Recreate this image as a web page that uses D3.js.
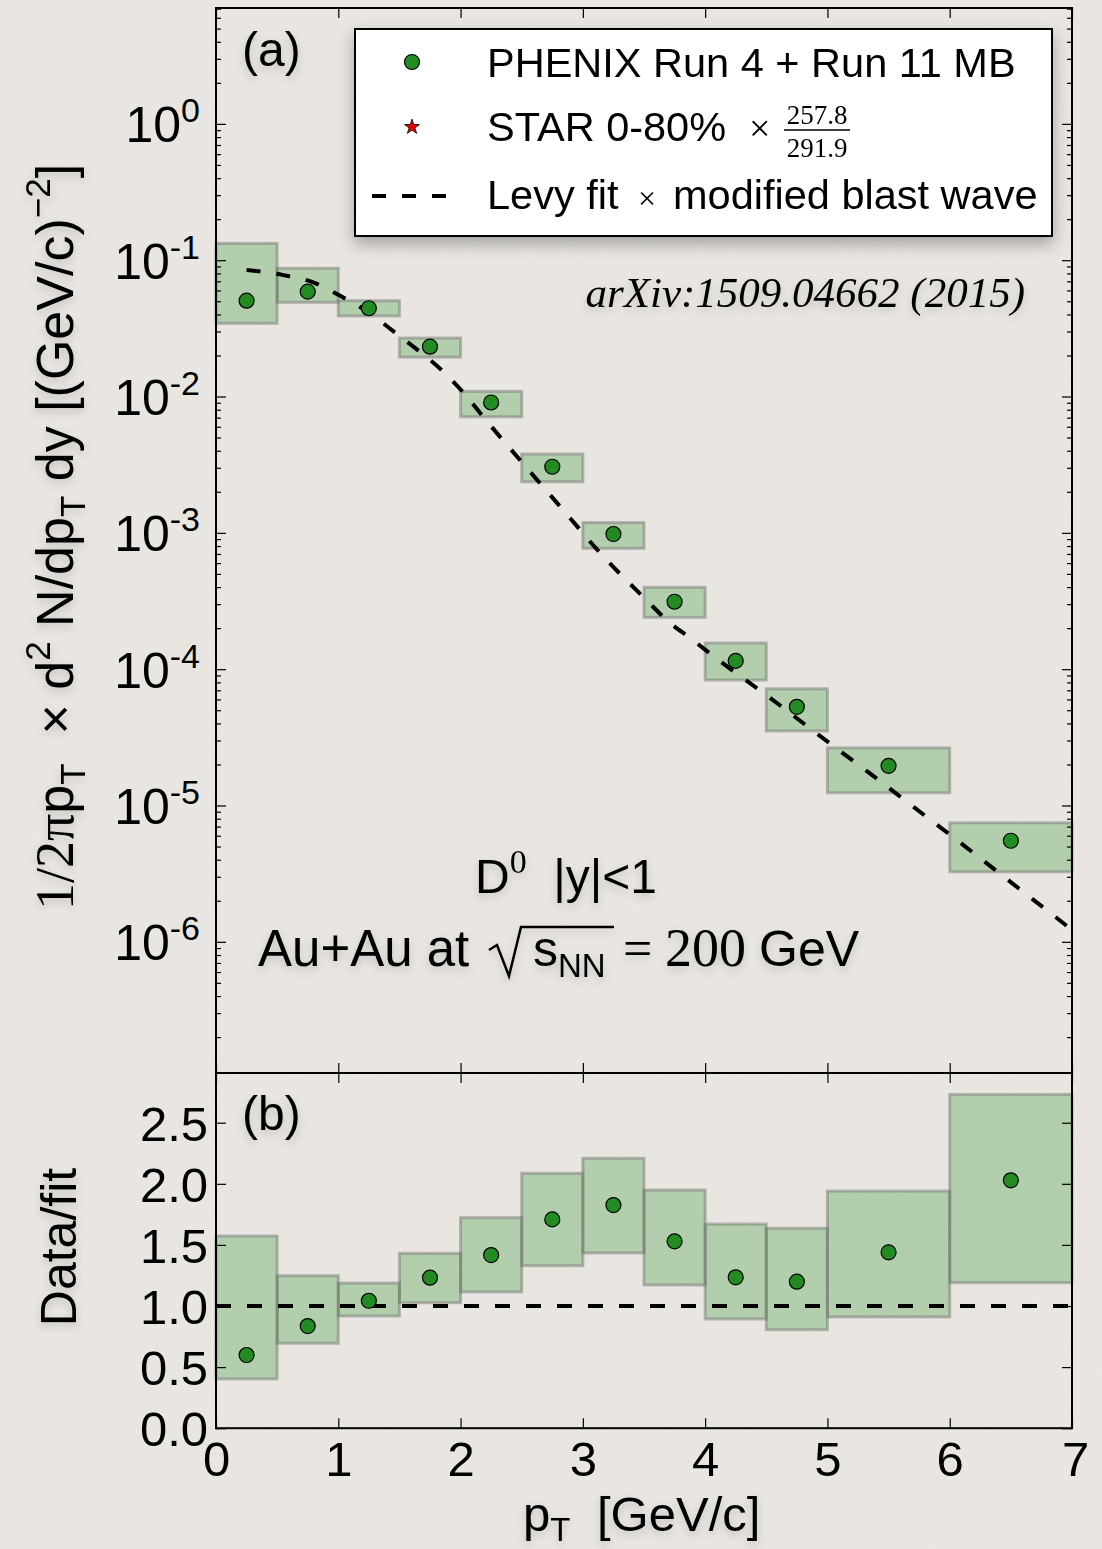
<!DOCTYPE html>
<meta charset="utf-8">
<head>
<style>
body { margin: 0; background: #ebe8e3; }
svg { display: block; }
</style>
<script src="https://cdnjs.cloudflare.com/ajax/libs/d3/7.8.5/d3.min.js"></script>
</head>
<body>
<div id="chart"></div>
<script>
// bins in pT [GeV/c]
var binLo = [0, 0.5, 1, 1.5, 2, 2.5, 3, 3.5, 4, 4.5, 5, 6]
var binHi = [0.5, 1, 1.5, 2, 2.5, 3, 3.5, 4, 4.5, 5, 6, 7]
var ptCenter = [0.25, 0.75, 1.25, 1.75, 2.25, 2.75, 3.25, 3.75, 4.25, 4.75, 5.5, 6.5]

// panel (a): invariant yield and systematic boxes
var yieldVal = [0.0509, 0.0593, 0.0448, 0.0234, 0.00912, 0.00308, 0.000989, 0.000315, 0.000116, 5.34e-5, 1.97e-5, 5.56e-6]
var yieldSysHi = [0.134, 0.088, 0.0509, 0.0271, 0.0110, 0.00382, 0.00120, 0.000402, 0.000157, 7.24e-5, 2.67e-5, 7.53e-6]
var yieldSysLo = [0.0347, 0.0495, 0.0393, 0.0196, 0.00716, 0.00239, 0.000776, 0.000242, 8.39e-5, 3.55e-5, 1.25e-5, 3.29e-6]

// Levy x modified blast wave fit
var fitPt = [0.25, 0.55, 0.80, 1.03, 1.26, 1.45, 1.65, 1.85, 2.03, 2.19, 2.51, 2.84, 3.17, 3.52, 3.70, 3.88, 4.11, 4.52, 4.93, 5.32, 5.72, 6.13, 6.52, 6.93, 7.0]
var fitVal = [0.0855, 0.0784, 0.0691, 0.0543, 0.0411, 0.0304, 0.0221, 0.0156, 0.0106, 0.00707, 0.00326, 0.00148, 0.000673, 0.000324, 0.000225, 0.000170, 0.0001175, 6.32e-5, 3.31e-5, 1.81e-5, 9.6e-6, 5.02e-6, 2.67e-6, 1.38e-6, 1.23e-6]

// panel (b): data / fit
var ratioVal = [0.599, 0.836, 1.043, 1.232, 1.417, 1.709, 1.826, 1.529, 1.235, 1.199, 1.439, 2.029]
var ratioSysHi = [1.573, 1.248, 1.188, 1.431, 1.723, 2.086, 2.209, 1.949, 1.671, 1.636, 1.941, 2.732]
var ratioSysLo = [0.403, 0.695, 0.918, 1.027, 1.115, 1.330, 1.434, 1.172, 0.894, 0.806, 0.910, 1.191]

var xTicks = [0, 1, 2, 3, 4, 5, 6, 7]
var logTickExp = [0, -1, -2, -3, -4, -5, -6]
var ratioTicks = [0, 0.5, 1, 1.5, 2, 2.5]

var W = 1102, H = 1549
var left = 216, right = 1072, topA = 8, split = 1073, botB = 1428.2
var font = '"Liberation Sans", Arial, Helvetica, sans-serif'
var serif = '"Liberation Serif", "DejaVu Serif", serif'
var green = '#228b22'

var svg = d3.select('#chart').append('svg').attr('width', W).attr('height', H)

var defs = svg.append('defs')
var sh = defs.append('filter').attr('id', 'shadow').attr('x', '-20%').attr('y', '-20%').attr('width', '140%').attr('height', '160%')
sh.append('feDropShadow').attr('dx', 0).attr('dy', 7).attr('stdDeviation', 8).attr('flood-color', '#000').attr('flood-opacity', 0.3)
var tsh = defs.append('filter').attr('id', 'tshadow').attr('x', '-10%').attr('y', '-30%').attr('width', '120%').attr('height', '180%')
tsh.append('feDropShadow').attr('dx', 0).attr('dy', 4).attr('stdDeviation', 4).attr('flood-color', '#000').attr('flood-opacity', 0.16)
// faint paper grain
var grain = defs.append('filter').attr('id', 'grain')
grain.append('feTurbulence').attr('type', 'fractalNoise').attr('baseFrequency', 0.9).attr('numOctaves', 2).attr('seed', 3)
grain.append('feColorMatrix').attr('type', 'matrix')
  .attr('values', '0 0 0 0 0.45  0 0 0 0 0.43  0 0 0 0 0.40  0 0 0 0.07 0')

svg.append('rect').attr('width', W).attr('height', H).attr('fill', '#ebe8e3')
svg.append('rect').attr('width', W).attr('height', H).attr('filter', 'url(#grain)')

var x = d3.scaleLinear().domain([0, 7]).range([left, right])
var y = d3.scaleLog().domain([1.1e-7, 7.14]).range([split, topA])
var yr = d3.scaleLinear().domain([0, 2.907]).range([botB, split])

var idx = d3.range(ptCenter.length)

// ---------- panel (a) ----------
var gA = svg.append('g')
gA.selectAll('rect.sys').data(idx).enter().append('rect')
  .attr('class', 'sys')
  .attr('x', function(i) { return x(binLo[i]) })
  .attr('width', function(i) { return x(binHi[i]) - x(binLo[i]) })
  .attr('y', function(i) { return y(yieldSysHi[i]) })
  .attr('height', function(i) { return y(yieldSysLo[i]) - y(yieldSysHi[i]) })
  .attr('fill', 'rgba(34,139,34,0.27)')
  .attr('stroke', 'rgba(110,110,110,0.45)')
  .attr('stroke-width', 3)

var fitLine = d3.line()
  .x(function(d, i) { return x(fitPt[i]) })
  .y(function(d, i) { return y(fitVal[i]) })
  .curve(d3.curveMonotoneX)
gA.append('path').datum(fitPt).attr('d', fitLine)
  .attr('fill', 'none').attr('stroke', '#000').attr('stroke-width', 4)
  .attr('stroke-dasharray', '14,16')

gA.selectAll('circle').data(idx).enter().append('circle')
  .attr('cx', function(i) { return x(ptCenter[i]) })
  .attr('cy', function(i) { return y(yieldVal[i]) })
  .attr('r', 7.5).attr('fill', green).attr('stroke', '#000').attr('stroke-width', 1.2)

// ---------- panel (b) ----------
var gB = svg.append('g')
gB.selectAll('rect.sys').data(idx).enter().append('rect')
  .attr('class', 'sys')
  .attr('x', function(i) { return x(binLo[i]) })
  .attr('width', function(i) { return x(binHi[i]) - x(binLo[i]) })
  .attr('y', function(i) { return yr(ratioSysHi[i]) })
  .attr('height', function(i) { return yr(ratioSysLo[i]) - yr(ratioSysHi[i]) })
  .attr('fill', 'rgba(34,139,34,0.27)')
  .attr('stroke', 'rgba(110,110,110,0.45)')
  .attr('stroke-width', 3)

gB.append('line').attr('x1', x(0)).attr('x2', x(7)).attr('y1', yr(1)).attr('y2', yr(1))
  .attr('stroke', '#000').attr('stroke-width', 4).attr('stroke-dasharray', '15,16')

gB.selectAll('circle').data(idx).enter().append('circle')
  .attr('cx', function(i) { return x(ptCenter[i]) })
  .attr('cy', function(i) { return yr(ratioVal[i]) })
  .attr('r', 7.5).attr('fill', green).attr('stroke', '#000').attr('stroke-width', 1.2)

// ---------- axes ----------
function styleAxis(g) {
  g.select('.domain').remove()
  g.selectAll('.tick line').attr('stroke', '#000').attr('stroke-width', 1.2)
  g.selectAll('.tick text').attr('fill', '#000').style('font-size', '49px').style('font-family', font)
}

// x axes (inward ticks)
svg.append('g').attr('transform', 'translate(0,' + topA + ')')
  .call(d3.axisBottom(x).tickValues(xTicks).tickSize(10).tickFormat('')).call(styleAxis)
svg.append('g').attr('transform', 'translate(0,' + split + ')')
  .call(d3.axisTop(x).tickValues(xTicks).tickSize(10).tickFormat('')).call(styleAxis)
svg.append('g').attr('transform', 'translate(0,' + split + ')')
  .call(d3.axisBottom(x).tickValues(xTicks).tickSize(10).tickFormat('')).call(styleAxis)
var xb = svg.append('g').attr('transform', 'translate(0,' + botB + ')')
  .call(d3.axisTop(x).tickValues(xTicks).tickSize(10).tickFormat(d3.format('d'))).call(styleAxis)
xb.selectAll('.tick text').attr('y', 48).attr('dy', 0).attr('text-anchor', 'middle')
xb.selectAll('.tick').filter(function(d) { return d == 7 }).select('text').attr('x', 3)

// log y axis ticks
var majors = [], minors = []
for (var e = -7; e <= 0; e++) {
  if (Math.pow(10, e) >= 1.1e-7) majors.push(Math.pow(10, e))
  for (var m = 2; m <= 9; m++) {
    var v = m * Math.pow(10, e)
    if (v >= 1.1e-7 && v <= 7.14) minors.push(v)
  }
}
var tickG = svg.append('g').attr('stroke', '#000').attr('stroke-width', 1.2)
function yTickLines(vals, len) {
  vals.forEach(function(v) {
    tickG.append('line').attr('x1', left).attr('x2', left + len).attr('y1', y(v)).attr('y2', y(v))
    tickG.append('line').attr('x1', right).attr('x2', right - len).attr('y1', y(v)).attr('y2', y(v))
  })
}
yTickLines(majors, 10)
yTickLines(minors, 5)

var yLab = svg.append('g').style('font-family', font).attr('fill', '#000')
logTickExp.forEach(function(ex) {
  var t = yLab.append('text').attr('x', 200).attr('y', y(Math.pow(10, ex)) + 18).attr('text-anchor', 'end')
  t.append('tspan').style('font-size', '50px').text('10')
  t.append('tspan').style('font-size', '34px').attr('dy', -20).text(ex == 0 ? '0' : String(ex))
})

// ratio y axes
var yrl = svg.append('g').attr('transform', 'translate(' + left + ',0)')
  .call(d3.axisRight(yr).tickValues(ratioTicks).tickSize(10).tickFormat(d3.format('.1f'))).call(styleAxis)
yrl.selectAll('.tick text').attr('x', -8).attr('dy', '0.36em').attr('text-anchor', 'end')
svg.append('g').attr('transform', 'translate(' + right + ',0)')
  .call(d3.axisLeft(yr).tickValues(ratioTicks).tickSize(10).tickFormat('')).call(styleAxis)

// frames
svg.append('rect').attr('x', left).attr('y', topA).attr('width', right - left).attr('height', split - topA)
  .attr('fill', 'none').attr('stroke', '#000').attr('stroke-width', 2)
svg.append('rect').attr('x', left).attr('y', split).attr('width', right - left).attr('height', botB - split)
  .attr('fill', 'none').attr('stroke', '#000').attr('stroke-width', 2)

// ---------- texts ----------
var txt = svg.append('g').style('font-family', font).attr('fill', '#000').attr('filter', 'url(#tshadow)')
txt.append('text').attr('x', 242).attr('y', 66).style('font-size', '48px').text('(a)')
txt.append('text').attr('x', 242).attr('y', 1130).style('font-size', '48px').text('(b)')

// y label (a)
var yl = txt.append('text').attr('transform', 'translate(73,537) rotate(-90)').attr('text-anchor', 'middle')
  .style('font-size', '52px')
yl.append('tspan').style('font-family', serif).style('font-size', '54px').text('1/2\u03c0')
yl.append('tspan').text('p')
yl.append('tspan').style('font-size', '35px').attr('dy', 12).text('T')
yl.append('tspan').attr('dy', -12).text('\u00a0 \u00d7 d')
yl.append('tspan').style('font-size', '35px').attr('dy', -23).text('2')
yl.append('tspan').attr('dy', 23).text(' N/dp')
yl.append('tspan').style('font-size', '35px').attr('dy', 12).text('T')
yl.append('tspan').attr('dy', -12).text(' dy [(GeV/c)')
yl.append('tspan').style('font-size', '35px').attr('dy', -23).text('\u22122')
yl.append('tspan').attr('dy', 23).text(']')

txt.append('text').attr('transform', 'translate(76,1247) rotate(-90)').attr('text-anchor', 'middle')
  .style('font-size', '50px').text('Data/fit')

var xl = txt.append('text').attr('x', 523).attr('y', 1531).style('font-size', '49px')
xl.append('tspan').text('p')
xl.append('tspan').style('font-size', '33px').attr('dy', 10).text('T')
txt.append('text').attr('x', 597).attr('y', 1531).style('font-size', '49px').text('[GeV/c]')

txt.append('text').attr('x', 1025).attr('y', 307).attr('text-anchor', 'end')
  .style('font-family', serif).style('font-style', 'italic').style('font-size', '43px')
  .text('arXiv:1509.04662 (2015)')

var d0 = txt.append('text').attr('x', 475).attr('y', 893).style('font-size', '48px')
d0.append('tspan').text('D')
d0.append('tspan').style('font-family', serif).style('font-size', '34px').attr('dy', -20).text('0')
d0.append('tspan').attr('dy', 20).text('\u00a0\u00a0|y|<1')

txt.append('text').attr('x', 258).attr('y', 966).style('font-size', '51px').text('Au+Au at')
// radical sign
txt.append('path').attr('d', 'M489,950 L497,945 L509,976 L521,927 L614,927')
  .attr('fill', 'none').attr('stroke', '#000').attr('stroke-width', 2.5).attr('stroke-linejoin', 'miter')
var sn = txt.append('text').attr('x', 533).attr('y', 966).style('font-size', '50px')
sn.append('tspan').text('s')
sn.append('tspan').style('font-size', '33px').attr('dy', 11).text('NN')
txt.append('text').attr('x', 623).attr('y', 966).style('font-family', serif).style('font-size', '52px').text('=')
txt.append('text').attr('x', 665).attr('y', 966).style('font-family', serif).style('font-size', '54px').text('200')
txt.append('text').attr('x', 759).attr('y', 966).style('font-size', '50px').text('GeV')

// ---------- legend ----------
var lg = svg.append('g')
lg.append('rect').attr('x', 355).attr('y', 29).attr('width', 697).attr('height', 207)
  .attr('fill', '#fff').attr('stroke', '#000').attr('stroke-width', 2).attr('filter', 'url(#shadow)')
lg.append('circle').attr('cx', 412).attr('cy', 62).attr('r', 7.5).attr('fill', green).attr('stroke', '#000').attr('stroke-width', 1.2)
lg.append('path').attr('d', d3.symbol().type(d3.symbolStar).size(70)())
  .attr('transform', 'translate(412,127)').attr('fill', '#e00').attr('stroke', '#000').attr('stroke-width', 0.8)
lg.append('line').attr('x1', 372).attr('x2', 452).attr('y1', 196).attr('y2', 196)
  .attr('stroke', '#000').attr('stroke-width', 4).attr('stroke-dasharray', '14,16')

var lt = lg.append('g').style('font-family', font).attr('fill', '#000')
lt.append('text').attr('x', 487).attr('y', 77).style('font-size', '41.5px').text('PHENIX Run 4 + Run 11 MB')
lt.append('text').attr('x', 487).attr('y', 141).style('font-size', '41.5px').text('STAR 0-80%')
lt.append('text').attr('x', 749).attr('y', 141).style('font-family', serif).style('font-size', '38px').text('\u00d7')
lt.append('text').attr('x', 817).attr('y', 124).attr('text-anchor', 'middle')
  .style('font-family', serif).style('font-size', '27px').text('257.8')
lt.append('line').attr('x1', 784).attr('x2', 850).attr('y1', 130).attr('y2', 130).attr('stroke', '#000').attr('stroke-width', 1.5)
lt.append('text').attr('x', 817).attr('y', 157).attr('text-anchor', 'middle')
  .style('font-family', serif).style('font-size', '27px').text('291.9')
lt.append('text').attr('x', 487).attr('y', 209).style('font-size', '41.5px').text('Levy fit')
lt.append('text').attr('x', 638).attr('y', 209).style('font-family', serif).style('font-size', '32px').text('\u00d7')
lt.append('text').attr('x', 673).attr('y', 209).style('font-size', '41.5px').text('modified blast wave')
</script>
</body>
</html>
